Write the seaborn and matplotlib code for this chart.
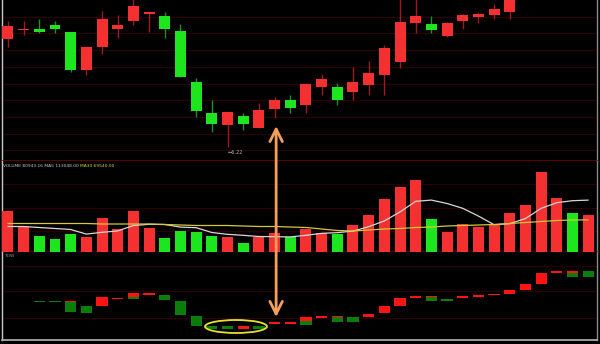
import numpy as np
import pandas as pd
import matplotlib
matplotlib.use("Agg")
import matplotlib.pyplot as plt
import seaborn as sns
from matplotlib.patches import Ellipse, ConnectionPatch, ArrowStyle

nan = np.nan
# ---------------- data ----------------
idx = list(range(38))
opens = [8.38, 8.56, 8.58, 8.66, 8.52, 7.76, 8.22, 8.58, 8.74, 8.88, 8.84, 8.54, 7.52, 6.90, 6.66, 6.84, 6.60, 6.98, 7.16,
         7.06, 7.42, 7.42, 7.32, 7.46, 7.66, 7.92, 8.70, 8.68, 8.44, 8.74, 8.82, 8.86, 8.92, 9.30, 9.55, 9.80, 10.30, 10.00]
closes = [8.64, 8.58, 8.52, 8.58, 7.76, 8.22, 8.78, 8.66, 9.04, 8.92, 8.58, 7.62, 6.94, 6.68, 6.92, 6.68, 6.96, 7.16, 7.00,
          7.48, 7.58, 7.16, 7.52, 7.70, 8.20, 8.72, 8.84, 8.56, 8.70, 8.86, 8.88, 8.98, 9.26, 9.60, 9.85, 10.40, 10.00, 10.30]
highs = [8.74, 8.74, 8.78, 8.74, 8.53, 8.22, 8.94, 8.86, 9.20, 8.92, 8.92, 8.68, 7.60, 7.16, 6.92, 6.90, 7.10, 7.22, 7.26,
         7.50, 7.68, 7.50, 7.82, 7.94, 8.26, 9.30, 9.30, 8.84, 8.72, 8.88, 8.92, 9.08, 9.40, 9.70, 9.95, 10.50, 10.45, 10.40]
lows = [8.22, 8.46, 8.50, 8.50, 7.72, 7.66, 8.08, 8.40, 8.66, 8.52, 8.40, 7.62, 6.82, 6.52, 6.22, 6.56, 6.60, 6.80, 6.90,
        6.90, 7.26, 7.06, 7.16, 7.26, 7.26, 7.80, 8.50, 8.50, 8.42, 8.58, 8.70, 8.78, 8.78, 9.20, 9.50, 9.75, 9.95, 9.95]
volume = [88000, 55000, 35200, 28600, 39600, 33000, 74800, 50600, 88000, 52800, 30800, 46200, 44000, 35200, 33000, 19800,
          33000, 41800, 33000, 50600, 41800, 39600, 59400, 81400, 114400, 140800, 156200, 72600, 44000, 61600, 55000,
          61600, 83600, 101200, 173800, 116600, 83600, 80943.16]
ma5 = [55000, 55000, 52800, 50600, 48400, 38300, 42200, 45300, 57200, 59800, 59400, 53700, 52400, 41800, 37800, 35600,
       33000, 32600, 32100, 35600, 40000, 41400, 44900, 54600, 67300, 87100, 110400, 113100, 105600, 95000, 77900,
       59000, 61200, 72600, 95000, 107400, 111800, 113048]
ma30 = [61600, 61600, 61600, 61600, 61600, 61600, 60500, 60500, 60500, 60500, 59400, 58300, 57200, 57200, 57200, 56100,
        55000, 55000, 53900, 52800, 49500, 46200, 45100, 47300, 49500, 50600, 52800, 53900, 56100, 57200, 58300,
        59400, 61600, 63800, 66000, 68200, 69300, 69540]
tow_red_lo = [nan, nan, nan, nan, 38, nan, 34, 41, 43, 45, nan, nan, nan, nan, nan, 11, nan, 16, 16, 19, 22, 23, nan,
              23, 27, 34, 42, 43, nan, 42, 43, 45, 46, 50, 56, 67, 67, nan]
tow_red_hi = [nan, nan, nan, nan, 39, nan, 43, 42, 47, 47, nan, nan, nan, nan, nan, 14, nan, 18, 18, 23, 24, 24, nan,
              26, 34, 42, 44, 44, nan, 44, 45, 46, 50, 56, 67, 69, 69, nan]
tow_green_lo = [nan, nan, 38, 38, 28, 27, nan, nan, 41, nan, 40, 25, 14, 11, 11, nan, 11, nan, nan, 15, nan, 18, 18,
                nan, nan, nan, nan, 39, 39, nan, nan, nan, nan, nan, nan, nan, 63, 63]
tow_green_hi = [nan, nan, 39, 39, 38, 34, nan, nan, 43, nan, 45, 39, 24, 14, 14, nan, 14, nan, nan, 19, nan, 23, 23,
                nan, nan, nan, nan, 43, 41, nan, nan, nan, nan, nan, nan, nan, 67, 69]
low_label = "←6.22"
vol_label_a = "VOLUME 80943.16 MA5 113048.00 "
vol_label_b = "MA30 69540.00"
tow_label = "TOW"

# ---------------- style ----------------
sns.set_theme(style="dark")
plt.rcParams["font.family"] = ["DejaVu Sans"]
RED = "#f53030"
GREEN = "#1ee61e"
TRED = "#ff1414"
TGREEN = "#0b7d0b"
GRID = "#2c0000"

W, H = 600, 344
fig = plt.figure(figsize=(6, 3.44), dpi=100, facecolor="black")
L, R = 2 / W, 595 / W


def mk(top, bot):
    return fig.add_axes([L, (H - bot) / H, R, (bot - top) / H], facecolor="black")


ax_main = mk(0, 161)
ax_vol = mk(161, 252)
ax_tow = mk(252, 340)

df = pd.DataFrame({"idx": idx, "open": opens, "close": closes, "high": highs, "low": lows,
                   "volume": volume, "ma5": ma5, "ma30": ma30})
df["dir"] = np.where(df["close"] >= df["open"], "up", "down")
up = df["dir"] == "up"

# ---------------- main candles ----------------
wick_cols = np.where(up, "#a01c1c", "#1f8f1f")
ax_main.vlines(df["idx"], df["low"], df["high"], colors=wick_cols, lw=1, zorder=2)
body_lo = np.minimum(df["open"], df["close"])
body_h = np.maximum(np.abs(df["close"] - df["open"]), 0.03)
ax_main.bar(df["idx"], body_h, bottom=body_lo, width=0.7,
            color=np.where(up, RED, GREEN), zorder=3, linewidth=0)
ax_main.set_ylim(5.94, 9.16)
for k in range(1, 10):
    fr = 16.7 * k / 161
    ax_main.plot([0, 1], [1 - fr, 1 - fr], transform=ax_main.transAxes, color=GRID, lw=0.8, zorder=1)
ax_main.text(14.0, 6.12, low_label, color="#b8b8b8", fontsize=3.6, ha="left", va="center")

# ---------------- volume ----------------
sns.barplot(data=df, x="idx", y="volume", hue="dir", palette={"up": RED, "down": GREEN},
            dodge=False, width=0.7, saturation=1, legend=False, native_scale=True, ax=ax_vol,
            linewidth=0, zorder=3)
sns.lineplot(data=df, x="idx", y="ma5", color="#d8d8d8", lw=0.9, ax=ax_vol, zorder=4)
sns.lineplot(data=df, x="idx", y="ma30", color="#d6c83a", lw=0.9, ax=ax_vol, zorder=4)
ax_vol.set_ylim(-1100, 199100)
for v in (45000, 96000, 148000):
    ax_vol.axhline(v, color=GRID, lw=0.8, zorder=1)
t1 = ax_vol.text(0.002, 0.945, vol_label_a, transform=ax_vol.transAxes, color="#c8c8c8",
                 fontsize=3.2, ha="left", va="center")
fig.canvas.draw()
bb = t1.get_window_extent(fig.canvas.get_renderer())
x_end = ax_vol.transAxes.inverted().transform((bb.x1, bb.y0))[0]
ax_vol.text(x_end, 0.945, vol_label_b, transform=ax_vol.transAxes, color="#d8d040",
            fontsize=3.2, ha="left", va="center")

# ---------------- TOW ----------------
for lo_list, hi_list, col in ((tow_green_lo, tow_green_hi, TGREEN), (tow_red_lo, tow_red_hi, TRED)):
    lo = np.array(lo_list, float)
    hi = np.array(hi_list, float)
    m = ~np.isnan(lo)
    h = np.maximum(hi[m] - lo[m], 1.5)
    ax_tow.bar(np.array(idx)[m], h, bottom=lo[m], width=0.72, color=col, linewidth=0, zorder=3)
ax_tow.set_ylim(0, 88)
for v in (22, 49, 74):
    ax_tow.axhline(v, color=GRID, lw=0.8, zorder=1)
ax_tow.text(0.003, 0.955, tow_label, transform=ax_tow.transAxes, color="#9a9a9a",
            fontsize=3.2, ha="left", va="center")
ax_tow.add_patch(Ellipse((14.54, 13.5), 3.95, 13, fill=False, edgecolor="#e8e030", lw=1.3, zorder=5))

# ---------------- axes cosmetics ----------------
for ax in (ax_main, ax_vol, ax_tow):
    ax.set_xlim(-0.38, 37.56)
    ax.set_xticks([])
    ax.set_yticks([])
    ax.set_xlabel("")
    ax.set_ylabel("")
    ax.grid(False)
    for s in ax.spines.values():
        s.set_visible(False)
    ax.spines["left"].set_visible(True)
    ax.spines["left"].set_color("#c8c8c8")
    ax.spines["left"].set_linewidth(1)
    ax.spines["right"].set_visible(True)
    ax.spines["right"].set_color("#8a8a8a")
    ax.spines["right"].set_linewidth(1)
ax_main.spines["bottom"].set_visible(True)
ax_main.spines["bottom"].set_color("#6e0000")
ax_vol.spines["bottom"].set_visible(True)
ax_vol.spines["bottom"].set_color("#500000")
ax_tow.spines["bottom"].set_visible(True)
ax_tow.spines["bottom"].set_color("#b0b0b0")

# ---------------- arrow ----------------
con = ConnectionPatch(xyA=(17.1, 6.64), coordsA=ax_main.transData,
                      xyB=(17.1, 23), coordsB=ax_tow.transData,
                      arrowstyle=ArrowStyle("<->", head_length=0.9, head_width=0.45),
                      mutation_scale=10, lw=2, color="#f5a05a", zorder=10)
fig.add_artist(con)

fig.savefig("out.png", dpi=100, facecolor="black")
